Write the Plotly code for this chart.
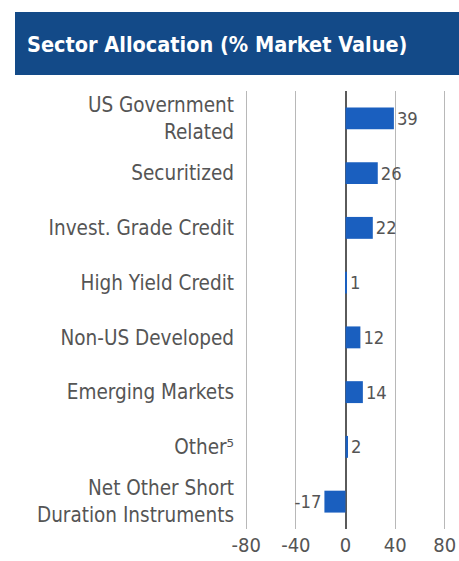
import plotly.graph_objects as go

categories = ["US Government<br>Related", "Securitized", "Invest. Grade Credit", "High Yield Credit",
              "Non-US Developed", "Emerging Markets", "Other⁵", "Net Other Short<br>Duration Instruments"]
values = [39, 26, 22, 1, 12, 14, 2, -17]
tick_vals = [-80, -40, 0, 40, 80]
tick_text = ["-80", "-40", "0", "40", "80"]
title_text = "Sector Allocation (% Market Value)"

W, H = 459, 561
L, R, T, B = 245, 13, 91, 32

fig = go.Figure(go.Bar(
    x=values, y=categories, orientation="h",
    marker=dict(color="#1a5fbf", line=dict(width=0)),
    text=[str(v) for v in values], textposition="outside",
    textfont=dict(family="DejaVu Sans Condensed", size=20, color="#555555"),
    cliponaxis=False,
))

fig.update_layout(
    width=W, height=H,
    margin=dict(l=L, r=R, t=T, b=B, autoexpand=False),
    paper_bgcolor="white", plot_bgcolor="white",
    bargap=0.6,
    showlegend=False,
    font=dict(family="DejaVu Sans Condensed", color="#555555"),
    title=dict(text="<b>" + title_text + "</b>", x=27 / W, xanchor="left", xref="container",
               y=1 - 44 / H, yanchor="middle", yref="container",
               font=dict(family="DejaVu Sans Condensed", size=21.5, color="white")),
    shapes=[dict(type="rect", xref="paper", yref="paper",
                 xsizemode="pixel", ysizemode="pixel", xanchor=0, yanchor=1,
                 x0=15 - L, x1=W - L, y0=T - 75, y1=T - 12,
                 fillcolor="#134a88", line=dict(width=0), layer="below")],
)
fig.update_xaxes(range=[-81, 81], tickvals=tick_vals, ticktext=tick_text, showgrid=True,
                 gridcolor="#b8b8b8", gridwidth=1,
                 zeroline=True, zerolinecolor="#5a5a5a", zerolinewidth=1.5, automargin=False,
                 showline=False, ticks="", ticklabelstandoff=2,
                 tickfont=dict(size=20, color="#555555"), fixedrange=True)
fig.update_yaxes(autorange="reversed", showgrid=False, showline=False, ticks="", automargin=False,
                 ticklabelstandoff=10, tickfont=dict(size=20.5, color="#555555"), fixedrange=True)

fig.write_html("out.html", config={"displayModeBar": False},
               post_script="document.body.style.margin='0';document.body.style.overflow='hidden';")
